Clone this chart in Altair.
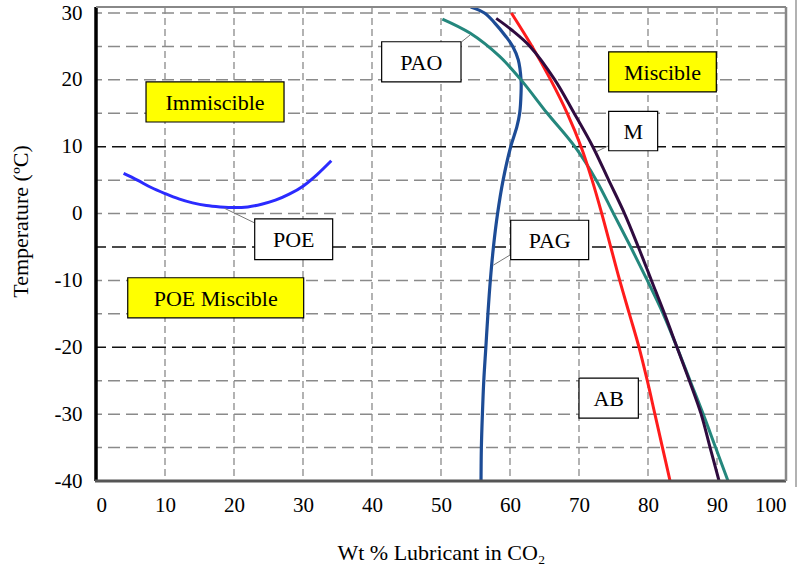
import altair as alt
import pandas as pd

FONT = "Liberation Serif"

# ---- curve data (Wt % lubricant, temperature °C) ----
poe_x = [4.0, 6, 8, 10, 12, 14, 16, 18, 20, 22, 24, 26, 28, 30, 32, 34.1]
poe_y = [6.0, 5.0, 3.9, 3.0, 2.2, 1.6, 1.2, 1.0, 0.9, 1.0, 1.4, 2.0, 2.9, 4.1, 5.8, 7.9]

pag_x = [55.8, 55.85, 56.0, 56.2, 56.5, 56.8, 57.15, 57.6, 58.2, 59.0, 60.1, 61.0, 61.4, 61.6,
         61.6, 61.2, 60.4, 59.4, 57.8, 56.3, 54.3]
pag_y = [-40, -35, -30, -25, -20, -15, -10, -5, 0, 5, 10, 13, 15, 18,
         20, 23, 25, 26.5, 28.5, 30, 30.9]

pao_x = [50.2, 54.2, 58.5, 61.6, 65.4, 69.4, 72.5, 75.0, 77.5, 79.9, 82.2, 84.2, 86.1, 88.0,
         89.8, 91.6]
pao_y = [29.1, 27, 23.5, 20, 15, 10, 5, 0, -5, -10, -15, -20, -25, -30, -35, -40]

ab_x = [60.2, 63.2, 65.9, 68.3, 70.3, 71.9, 73.3, 74.6, 75.9, 77.3, 78.7, 79.9, 81.0, 82.1, 83.2]
ab_y = [30, 25, 20, 15, 10, 5, 0, -5, -10, -15, -20, -25, -30, -35, -40]

m_x = [58.0, 60.2, 62.9, 66.5, 69.3, 72.0, 74.3, 76.6, 78.6, 80.5, 82.4, 84.2, 86.0, 87.7,
       89.0, 90.3]
m_y = [29.2, 27.5, 25, 20, 15, 10, 5, 0, -5, -10, -15, -20, -25, -30, -35, -40]

series = [
    ("POE", poe_x, poe_y, "#2b2bff", 3.0),
    ("PAG", pag_x, pag_y, "#1d4c96", 3.2),
    ("PAO", pao_x, pao_y, "#24877d", 3.0),
    ("AB", ab_x, ab_y, "#ff1c1c", 3.0),
    ("M", m_x, m_y, "#2f0b3f", 3.0),
]

# ---- tick values / grid ----
x_ticks = [0, 10, 20, 30, 40, 50, 60, 70, 80, 90, 100]
y_ticks = [-40, -30, -20, -10, 0, 10, 20, 30]
vgrid = [10, 20, 30, 40, 50, 60, 70, 80, 90]
hgrid_light = [-35, -30, -25, -15, -10, 0, 5, 15, 20, 25, 30]
hgrid_dark = [-20, -5, 10]

# ---- annotation boxes (data units) ----
box_text = ["Immiscible", "PAO", "Miscible", "M", "POE", "PAG", "POE Miscible", "AB"]
box_x1 = [7.25, 41.4, 74.3, 74.3, 23.0, 60.1, 4.6, 70.0]
box_x2 = [27.25, 52.9, 89.9, 81.4, 34.3, 71.4, 30.1, 78.6]
box_y1 = [19.7, 25.7, 24.2, 15.3, -0.8, -1.0, -9.6, -24.6]
box_y2 = [13.7, 19.7, 18.2, 9.4, -6.9, -6.9, -15.6, -30.6]
box_fill = ["#ffff00", "#ffffff", "#ffff00", "#ffffff", "#ffffff", "#ffffff", "#ffff00", "#ffffff"]

# leader lines
lead_x1 = [53.0, 74.4, 18.6, 60.0]
lead_y1 = [25.7, 10.2, 0.8, -6.2]
lead_x2 = [54.2, 72.6, 23.0, 57.6]
lead_y2 = [26.7, 9.3, -1.4, -7.7]

XDOM = [0, 100]
YDOM = [-40, 30.9]
xs = alt.Scale(domain=XDOM, nice=False, zero=False)
ys = alt.Scale(domain=YDOM, nice=False, zero=False)

XT = "Wt % Lubricant in CO₂"
YT = "Temperature (ºC)"
XAX = alt.Axis(values=x_ticks, title=XT, grid=False, domain=False, ticks=False,
               labelFont=FONT, labelFontSize=21, labelColor="#000", labelPadding=13,
               titleFont=FONT, titleFontSize=22, titleFontWeight="normal", titleColor="#000",
               titlePadding=27)
YAX = alt.Axis(values=y_ticks, title=YT, grid=False, domain=False, ticks=False,
               labelFont=FONT, labelFontSize=21, labelColor="#000", labelPadding=14,
               labelExpr="'' + datum.value",
               titleFont=FONT, titleFontSize=22, titleFontWeight="normal", titleColor="#000",
               titleX=-76, titleY=214, titleAngle=270, titleAlign="center",
               titleBaseline="middle")


def X(f):
    return alt.X(f, scale=xs, axis=XAX, title=XT)


def Y(f):
    return alt.Y(f, scale=ys, axis=YAX, title=YT)


layers = []

# grid
vg = pd.DataFrame({"x": vgrid})
layers.append(alt.Chart(vg).mark_rule(color="#8a8a8a", strokeWidth=1.3, strokeDash=[7, 4]).encode(
    x=X("x:Q")))
hl = pd.DataFrame({"y": hgrid_light})
layers.append(alt.Chart(hl).mark_rule(color="#8a8a8a", strokeWidth=1.5, strokeDash=[12, 6]).encode(
    y=Y("y:Q")))
hd = pd.DataFrame({"y": hgrid_dark})
layers.append(alt.Chart(hd).mark_rule(color="#111111", strokeWidth=1.6, strokeDash=[14, 6]).encode(
    y=Y("y:Q")))

# curves
for name, cx, cy, col, w in series:
    df = pd.DataFrame({"x": cx, "y": cy, "i": list(range(len(cx)))})
    layers.append(alt.Chart(df).mark_line(color=col, strokeWidth=w, clip=True,
                                          interpolate="catmull-rom").encode(
        x=X("x:Q"), y=Y("y:Q"), order="i:Q"))

# leaders
ld = pd.DataFrame({"x": lead_x1, "y": lead_y1, "x2": lead_x2, "y2": lead_y2})
layers.append(alt.Chart(ld).mark_rule(color="#777777", strokeWidth=1).encode(
    x=X("x:Q"), y=Y("y:Q"), x2="x2:Q", y2="y2:Q"))

# boxes
bx = pd.DataFrame({"t": box_text, "x1": box_x1, "x2": box_x2, "y1": box_y1, "y2": box_y2,
                   "fill": box_fill})
bx["xc"] = (bx["x1"] + bx["x2"]) / 2
bx["yc"] = (bx["y1"] + bx["y2"]) / 2
layers.append(alt.Chart(bx).mark_rect(stroke="#000", strokeWidth=1.2).encode(
    x=X("x1:Q"), x2="x2:Q", y=Y("y1:Q"), y2="y2:Q",
    fill=alt.Fill("fill:N", scale=None)))
layers.append(alt.Chart(bx).mark_text(font=FONT, fontSize=22, color="#000", baseline="middle",
                                      align="center", dy=1).encode(
    x=X("xc:Q"), y=Y("yc:Q"), text="t:N"))

# frame
W, H = 690, 474
fr = pd.DataFrame({"k": [0]})
layers.append(alt.Chart(fr).mark_rule(color="#000", strokeWidth=3.5).encode(
    x=alt.value(0), y=alt.value(0), y2=alt.value(H)))
layers.append(alt.Chart(fr).mark_rule(color="#555", strokeWidth=3).encode(
    x=alt.value(-1), x2=alt.value(W), y=alt.value(H)))
layers.append(alt.Chart(fr).mark_rule(color="#888", strokeWidth=2).encode(
    x=alt.value(0), x2=alt.value(W), y=alt.value(0)))
layers.append(alt.Chart(fr).mark_rule(color="#888", strokeWidth=2.5).encode(
    x=alt.value(W), y=alt.value(0), y2=alt.value(H)))
layers.append(alt.Chart(fr).mark_rule(color="#999", strokeWidth=1.5).encode(
    x=alt.value(700), y=alt.value(-7), y2=alt.value(480)))

chart = alt.layer(*layers).properties(
    width=W, height=H,
    autosize=alt.AutoSizeParams(type="none"),
    padding={"left": 96, "top": 7, "right": 18, "bottom": 90},
    background="white",
).configure_view(stroke=None)

chart.save("out.html", embed_options={"renderer": "svg", "actions": False})
